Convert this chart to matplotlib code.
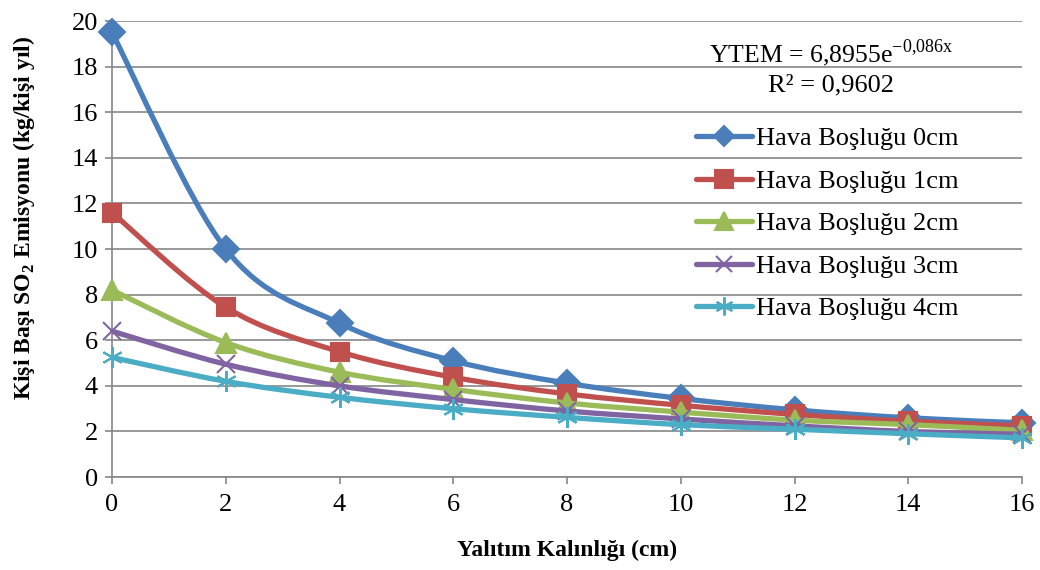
import matplotlib
matplotlib.use("Agg")
import matplotlib.pyplot as plt
from matplotlib.path import Path
from matplotlib.patches import PathPatch
from matplotlib.lines import Line2D
import numpy as np

# ------------------------------------------------------------
# Dados
# ------------------------------------------------------------
kalinlik = [0, 2, 4, 6, 8, 10, 12, 14, 16]
bosluk_0 = [19.5, 10.0, 6.75, 5.1, 4.12, 3.45, 2.95, 2.6, 2.38]
bosluk_1 = [11.6, 7.45, 5.5, 4.38, 3.65, 3.15, 2.75, 2.45, 2.25]
bosluk_2 = [8.2, 5.9, 4.6, 3.85, 3.25, 2.85, 2.5, 2.3, 2.05]
bosluk_3 = [6.4, 4.95, 4.0, 3.4, 2.9, 2.55, 2.25, 2.0, 1.88]
bosluk_4 = [5.25, 4.2, 3.5, 3.0, 2.62, 2.3, 2.1, 1.9, 1.72]

seri_adlari = ["Hava Boşluğu 0cm", "Hava Boşluğu 1cm", "Hava Boşluğu 2cm",
               "Hava Boşluğu 3cm", "Hava Boşluğu 4cm"]
seriler = [bosluk_0, bosluk_1, bosluk_2, bosluk_3, bosluk_4]

renkler = ["#4A7EBB", "#C0504D", "#9BBB59", "#8064A2", "#4BACC6"]
markerlar = ["D", "s", "^", "x", (6, 2, 0)]
marker_boy = [13, 13.5, 14, 13, 15]
legend_boy = [10, 13, 13, 12, 13]

plt.rcParams["font.family"] = ["Liberation Serif", "DejaVu Serif"]
plt.rcParams["mathtext.fontset"] = "custom"
plt.rcParams["mathtext.rm"] = "Liberation Serif"
plt.rcParams["mathtext.bf"] = "Liberation Serif:bold"


def egri_yolu(x, y):
    # Excel tarzı yumuşatılmış çizgi: Bezier kontrol noktaları
    pts = np.column_stack([x, y]).astype(float)
    n = len(pts)
    verts = [pts[0]]
    codes = [Path.MOVETO]
    for i in range(n - 1):
        p0 = pts[i - 1] if i > 0 else pts[i]
        p1 = pts[i]
        p2 = pts[i + 1]
        p3 = pts[i + 2] if i + 2 < n else pts[i + 1]
        c1 = p1 + (p2 - p0) / 6.0
        c2 = p2 - (p3 - p1) / 6.0
        verts += [c1, c2, p2]
        codes += [Path.CURVE4] * 3
    return Path(verts, codes)


fig = plt.figure(figsize=(10.4, 5.7), dpi=100)
ax = fig.add_axes([0.1077, 0.163, 0.875, 0.8])

handles = []
for i, (ys, ad, renk, mk, ms, lms) in enumerate(zip(seriler, seri_adlari, renkler,
                                                    markerlar, marker_boy, legend_boy)):
    z = 3 + i * 0.1
    patch = PathPatch(egri_yolu(kalinlik, ys), facecolor="none", edgecolor=renk,
                      lw=3.8, capstyle="round", joinstyle="round", zorder=z)
    ax.add_patch(patch)
    ax.plot(kalinlik, ys, linestyle="none", marker=mk, markersize=ms,
            color=renk, markeredgecolor=renk, markeredgewidth=1.5, zorder=z + 0.05,
            clip_on=False)
    handles.append(Line2D([0], [0], color=renk, lw=3.8, marker=mk, markersize=lms,
                          markeredgecolor=renk, markeredgewidth=1.5,
                          solid_capstyle="round", label=ad))

ax.set_xlim(0, 16)
ax.set_ylim(0, 20)
ax.set_xticks(np.arange(0, 17, 2))
ax.set_yticks(np.arange(0, 21, 2))

ax.grid(axis="y", color="#868686", linewidth=1.2)
ax.set_axisbelow(True)
for s in ["top", "right"]:
    ax.spines[s].set_visible(False)
for s in ["left", "bottom"]:
    ax.spines[s].set_color("#868686")
    ax.spines[s].set_linewidth(1.2)
ax.tick_params(axis="both", colors="#868686", length=5, width=1.2,
               labelcolor="black", labelsize=19, pad=5)
ax.tick_params(axis="x", pad=7)

ax.set_xlabel("Yalıtım Kalınlığı (cm)", fontsize=17, fontweight="bold", labelpad=17)
fig.text(0.023, 0.617, r"Kişi Başı SO$_\mathbf{2}$ Emisyonu (kg/kişi yıl)",
         rotation=90, fontsize=17, fontweight="bold", ha="center", va="center")

# Denklem
ax.text(0.79, 0.93, r"YTEM = 6,8955e$^{\mathrm{-0{,}086x}}$", transform=ax.transAxes,
        fontsize=18.5, ha="center", va="center")
ax.text(0.79, 0.858, "R² = 0,9602", transform=ax.transAxes,
        fontsize=19, ha="center", va="center")

ax.legend(handles=handles, loc="upper left", bbox_to_anchor=(0.642, 0.768),
          frameon=False, fontsize=19, handlelength=2.1, handletextpad=0.15,
          labelspacing=0.72, borderpad=0, borderaxespad=0)

plt.savefig("out.png", dpi=100)
